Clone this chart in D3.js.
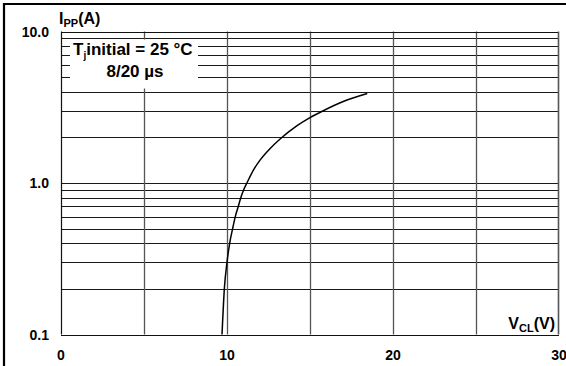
<!DOCTYPE html>
<html>
<head>
<meta charset="utf-8">
<script src="https://cdn.jsdelivr.net/npm/d3@7"></script>
<style>
  html, body { margin: 0; padding: 0; background: #fff; }
  svg { display: block; }
  text { font-family: "Liberation Sans", Arial, Helvetica, sans-serif; font-weight: bold; fill: #000; }
</style>
</head>
<body>
<svg id="chart" width="566" height="366"></svg>
<script>
// Peak pulse current vs clamping voltage (8/20 µs, Tj initial = 25 °C)
const clampVoltage = [9.70, 9.84, 10.0, 10.16, 10.34, 10.5, 10.68, 10.83, 11.0, 11.2, 11.6, 12.0, 12.6, 13.2, 14.2, 15.0, 15.8, 17.0, 18.45];
const peakCurrent  = [0.1, 0.2, 0.3, 0.4, 0.5, 0.6, 0.7, 0.8, 0.9, 1.0, 1.22, 1.42, 1.69, 1.95, 2.38, 2.7, 3.0, 3.45, 3.9];

const xTicks = [0, 10, 20, 30];
const xGrid = [5, 10, 15, 20, 25];
const yTicks = [0.1, 1.0, 10.0];
const yTickLabels = ["0.1", "1.0", "10.0"];
const yGrid = [0.2, 0.3, 0.4, 0.5, 0.6, 0.7, 0.8, 0.9, 1, 2, 3, 4, 5, 6, 7, 8, 9];

const W = 566, H = 366;
const margin = { top: 31.5, right: 7, bottom: 31.5, left: 61 };

const svg = d3.select("#chart");

const x = d3.scaleLinear().domain([0, 30]).range([margin.left, W - margin.right]);
const y = d3.scaleLog().domain([0.1, 10]).range([H - margin.bottom, margin.top]);

// outer frame (left and top edges)
svg.append("line").attr("x1", 4).attr("x2", 4).attr("y1", 3).attr("y2", H)
  .attr("stroke", "#000").attr("stroke-width", 2.2);
svg.append("line").attr("x1", 3).attr("x2", W).attr("y1", 4).attr("y2", 4)
  .attr("stroke", "#000").attr("stroke-width", 2.2);

// grid
const grid = svg.append("g");
grid.selectAll("line.h").data(yGrid).join("line")
  .attr("class", "h")
  .attr("x1", x(0)).attr("x2", x(30))
  .attr("y1", d => Math.round(y(d)) + 0.5).attr("y2", d => Math.round(y(d)) + 0.5)
  .attr("stroke", "#1a1a1a").attr("stroke-width", 1);
grid.selectAll("line.v").data(xGrid).join("line")
  .attr("class", "v")
  .attr("x1", d => Math.round(x(d)) + 0.5).attr("x2", d => Math.round(x(d)) + 0.5)
  .attr("y1", y(10)).attr("y2", y(0.1))
  .attr("stroke", "#555").attr("stroke-width", 1.3);

// plot frame
svg.append("line").attr("x1", x(0)).attr("x2", x(30)).attr("y1", Math.round(y(10)) + 0.5).attr("y2", Math.round(y(10)) + 0.5)
  .attr("stroke", "#111").attr("stroke-width", 1.2);
svg.append("line").attr("x1", x(0)).attr("x2", x(30)).attr("y1", Math.round(y(0.1)) + 0.5).attr("y2", Math.round(y(0.1)) + 0.5)
  .attr("stroke", "#111").attr("stroke-width", 1.2);
svg.append("line").attr("x1", Math.round(x(0)) + 0.5).attr("x2", Math.round(x(0)) + 0.5).attr("y1", y(10)).attr("y2", y(0.1))
  .attr("stroke", "#111").attr("stroke-width", 1.2);
svg.append("line").attr("x1", Math.round(x(30)) - 0.5).attr("x2", Math.round(x(30)) - 0.5).attr("y1", y(10)).attr("y2", y(0.1))
  .attr("stroke", "#555").attr("stroke-width", 1.6);

// legend box
svg.append("rect").attr("x", 70).attr("y", 39.5).attr("width", 128).attr("height", 49)
  .attr("fill", "#fff");
const l1 = svg.append("text").attr("x", 73).attr("y", 55).style("font-size", "17px");
l1.append("tspan").text("T");
l1.append("tspan").attr("dy", 4).style("font-size", "10px").text("j");
l1.append("tspan").attr("dy", -4).text("initial = 25 °C");
svg.append("text").attr("x", 135).attr("y", 77).attr("text-anchor", "middle")
  .style("font-size", "17px").text("8/20 µs");

// curve
const line = d3.line().x((d, i) => x(clampVoltage[i])).y(d => y(d)).curve(d3.curveMonotoneX);
svg.append("path").datum(peakCurrent).attr("d", line)
  .attr("fill", "none").attr("stroke", "#000").attr("stroke-width", 1.5);

// y tick labels
svg.selectAll("text.yl").data(yTicks).join("text")
  .attr("class", "yl")
  .attr("x", 49).attr("y", d => y(d)).attr("dy", "0.36em")
  .attr("text-anchor", "end").style("font-size", "14px")
  .text((d, i) => yTickLabels[i]);

// x tick labels
svg.selectAll("text.xl").data(xTicks).join("text")
  .attr("class", "xl")
  .attr("x", d => x(d)).attr("y", 360)
  .attr("text-anchor", "middle").style("font-size", "14px")
  .text(d => d);

// axis titles
const yt = svg.append("text").attr("x", 59).attr("y", 24).style("font-size", "16px");
yt.append("tspan").text("I");
yt.append("tspan").attr("dy", 3).style("font-size", "11px").text("PP");
yt.append("tspan").attr("dy", -3).text("(A)");

const xt = svg.append("text").attr("x", 555).attr("y", 329).attr("text-anchor", "end").style("font-size", "16px");
xt.append("tspan").text("V");
xt.append("tspan").attr("dy", 3).style("font-size", "11px").text("CL");
xt.append("tspan").attr("dy", -3).text("(V)");
</script>
</body>
</html>
